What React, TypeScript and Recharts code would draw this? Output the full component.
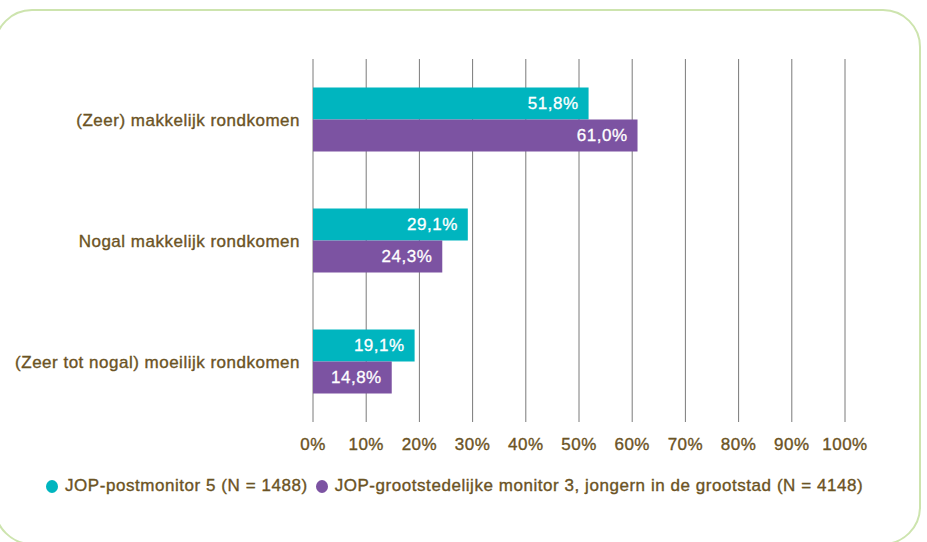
import { BarChart, Bar, XAxis, YAxis, CartesianGrid, LabelList } from 'recharts';

const categories = [
  '(Zeer) makkelijk rondkomen',
  'Nogal makkelijk rondkomen',
  '(Zeer tot nogal) moeilijk rondkomen',
];
const postmonitor = [51.8, 29.1, 19.1];
const grootstad = [61.0, 24.3, 14.8];
const xTicks = [0, 10, 20, 30, 40, 50, 60, 70, 80, 90, 100];
const seriesNames = [
  'JOP-postmonitor 5 (N = 1488)',
  'JOP-grootstedelijke monitor 3, jongern in de grootstad (N = 4148)',
];

const TEAL = '#00b5bf';
const PURPLE = '#7c53a2';
const BROWN = '#6b5324';
const FONT = '"Liberation Sans", Arial, Helvetica, sans-serif';

const data = categories.map((name, i) => ({
  name,
  post: postmonitor[i],
  groot: grootstad[i],
}));

const fmt = (v: any) => `${Number(v).toFixed(1).replace('.', ',')}%`;

// slightly heavier than regular, like the medium weight in the original
const tickStyle = {
  fill: BROWN,
  fontSize: 17,
  fontFamily: FONT,
  letterSpacing: 0.5,
  stroke: BROWN,
  strokeWidth: 0.35,
};

export default function App() {
  return (
    <div style={{ position: 'absolute', left: 0, top: 0, width: 927, height: 542, overflow: 'hidden', background: '#fff', fontFamily: FONT }}>
      <div
        style={{
          position: 'absolute',
          left: -6,
          top: 9,
          width: 927,
          height: 536,
          border: '2px solid #cde4ae',
          borderRadius: 38,
          boxSizing: 'border-box',
        }}
      />
      <BarChart
        layout="vertical"
        width={927}
        height={542}
        data={data}
        margin={{ top: 59, right: 82, left: 0, bottom: 80 }}
        barCategoryGap="23.5%"
        barGap={0}
        style={{ position: 'absolute', left: 0, top: 0 }}
      >
        <CartesianGrid horizontal={false} stroke="#7a7a7a" strokeWidth={1} verticalValues={xTicks} />
        <XAxis
          type="number"
          domain={[0, 100]}
          ticks={xTicks}
          tickFormatter={(v) => `${v}%`}
          axisLine={false}
          tickLine={false}
          tickMargin={10}
          height={40}
          interval={0}
          tick={tickStyle}
        />
        <YAxis
          type="category"
          dataKey="name"
          width={313}
          axisLine={false}
          tickLine={false}
          tickMargin={7}
          tick={tickStyle}
        />
        <Bar dataKey="post" fill={TEAL} isAnimationActive={false}>
          <LabelList dataKey="post" position="insideRight" offset={10} formatter={fmt} fill="#fff" fontSize={17} fontFamily={FONT} letterSpacing={0.5} stroke="#fff" strokeWidth={0.3} />
        </Bar>
        <Bar dataKey="groot" fill={PURPLE} isAnimationActive={false}>
          <LabelList dataKey="groot" position="insideRight" offset={10} formatter={fmt} fill="#fff" fontSize={17} fontFamily={FONT} letterSpacing={0.5} stroke="#fff" strokeWidth={0.3} />
        </Bar>
      </BarChart>
      <div
        style={{
          position: 'absolute',
          left: 46,
          top: 476,
          display: 'flex',
          alignItems: 'center',
          color: BROWN,
          fontSize: 17,
          letterSpacing: 0.55,
          WebkitTextStroke: `0.35px ${BROWN}`,
          whiteSpace: 'nowrap',
        }}
      >
        {seriesNames.map((s, i) => (
          <span key={s} style={{ display: 'flex', alignItems: 'center', marginRight: 8 }}>
            <span
              style={{
                display: 'inline-block',
                width: 12,
                height: 13,
                borderRadius: '50%',
                background: i === 0 ? TEAL : PURPLE,
                marginRight: 7,
                WebkitTextStroke: '0',
              }}
            />
            {s}
          </span>
        ))}
      </div>
    </div>
  );
}
